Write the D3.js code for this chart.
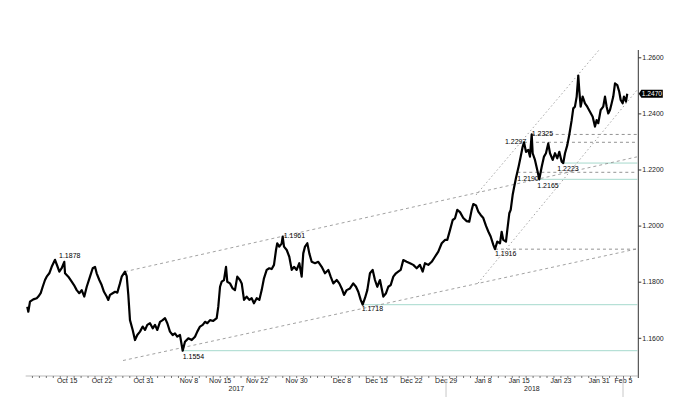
<!DOCTYPE html>
<html>
<head>
<meta charset="utf-8">
<script src="https://cdn.jsdelivr.net/npm/d3@7"></script>
<style>
  html, body { margin: 0; padding: 0; background: #fff; }
  svg { display: block; }
  text { font-family: "Liberation Sans", Arial, sans-serif; }
</style>
</head>
<body>
<svg id="chart" width="677" height="397"></svg>
<script>
// ---------------- DATA ----------------
// trading-day index (0 = Mon 16 Oct 2017, weekends removed)
const tradingDay = [
  -5.67,-5.52,-5.28,-4.80,-4.31,-4.08,-3.74,-3.45,-3.12,-2.88,-2.50,-2.16,-1.68,-1.35,-1.06,-0.72,-0.35,-0.24,
  0.23,0.72,1.05,1.44,1.81,2.16,2.53,2.88,3.35,3.74,4.07,4.31,4.69,5.03,5.36,5.75,5.98,6.23,6.61,6.95,7.28,
  7.66,7.91,8.38,8.63,8.86,9.10,9.49,9.82,10.15,10.54,10.93,11.26,11.59,11.98,12.37,12.70,13.03,13.42,13.80,
  14.14,14.47,14.85,15.24,15.57,15.90,16.29,16.68,17.01,17.49,17.98,18.45,18.78,19.17,19.56,19.89,20.22,20.61,
  21.08,21.57,21.80,22.05,22.29,22.62,22.91,23.09,23.48,23.87,24.20,24.53,24.92,25.17,25.50,25.88,26.26,26.60,
  26.93,27.32,27.70,28.04,28.37,28.76,29.13,29.48,29.81,30.10,30.28,30.57,30.92,31.06,31.25,31.64,32.01,32.36,
  32.69,33.07,33.45,33.79,34.02,34.27,34.60,34.89,35.23,35.71,36.18,36.67,37.14,37.62,37.96,38.34,38.83,39.20,
  39.55,39.88,40.26,40.74,41.21,41.60,41.93,42.28,42.56,42.90,43.23,43.61,44.00,44.33,44.66,45.05,45.53,45.92,
  46.25,46.59,46.97,47.35,47.68,48.03,48.40,48.89,49.37,49.84,50.33,50.80,51.19,51.52,52.00,52.49,52.96,53.44,
  53.93,54.40,54.73,55.12,55.51,55.84,56.17,56.56,57.03,57.52,57.89,58.24,58.47,58.86,59.19,59.53,59.91,60.30,
  60.63,60.97,61.35,61.59,61.92,62.31,62.55,62.78,63.17,63.36,63.65,63.85,64.13,64.32,64.61,64.80,65.00,65.29,
  65.57,65.76,66.05,66.38,66.62,66.87,67.01,67.34,67.67,67.96,68.31,68.64,68.92,69.25,69.50,69.89,70.22,70.55,
  70.84,71.18,71.41,71.66,71.99,72.27,72.62,72.85,73.09,73.34,73.57,73.71,73.91,74.20,74.53,74.86,75.25,75.64,
  75.97,76.21,76.44,76.79,77.16,77.41,77.65,77.88,78.13,78.37,78.60,78.85,79.18,79.46,79.67,79.95,80.14,80.43,80.61
];
const price = [
  1.1711,1.1693,1.1729,1.1737,1.1741,1.1747,1.1759,1.1782,1.1806,1.1818,1.1830,1.1853,1.1878,1.1856,1.1836,1.1848,1.1871,1.1830,
  1.1818,1.1800,1.1788,1.1770,1.1759,1.1770,1.1747,1.1782,1.1818,1.1848,1.1853,1.1830,1.1806,1.1788,1.1764,1.1747,1.1735,1.1753,1.1759,1.1764,1.1761,
  1.1794,1.1818,1.1836,1.1820,1.1753,1.1663,1.1628,1.1592,1.1610,1.1622,1.1640,1.1628,1.1646,1.1652,1.1634,1.1646,1.1628,1.1657,1.1663,
  1.1670,1.1652,1.1622,1.1610,1.1616,1.1604,1.1610,1.1554,1.1586,1.1598,1.1592,1.1604,1.1622,1.1640,1.1646,1.1657,1.1652,1.1663,
  1.1660,1.1670,1.1711,1.1782,1.1800,1.1806,1.1853,1.1800,1.1794,1.1776,1.1770,1.1818,1.1806,1.1794,1.1735,1.1747,1.1735,1.1741,
  1.1723,1.1741,1.1735,1.1770,1.1812,1.1842,1.1848,1.1845,1.1860,1.1913,1.1937,1.1925,1.1937,1.1961,1.1925,1.1913,1.1889,1.1842,
  1.1853,1.1842,1.1866,1.1818,1.1901,1.1925,1.1937,1.1901,1.1871,1.1866,1.1871,1.1853,1.1830,1.1842,1.1818,1.1794,1.1806,1.1794,
  1.1776,1.1753,1.1770,1.1776,1.1794,1.1782,1.1764,1.1735,1.1718,1.1742,1.1770,1.1830,1.1842,1.1806,1.1782,1.1806,1.1747,1.1759,
  1.1782,1.1788,1.1818,1.1830,1.1836,1.1842,1.1877,1.1871,1.1866,1.1860,1.1848,1.1860,1.1836,1.1866,1.1860,1.1871,1.1889,1.1907,
  1.1937,1.1949,1.1949,1.1984,1.2020,1.2026,1.2056,1.2048,1.2027,1.2016,1.2014,1.2056,1.2077,1.2072,1.2050,1.2038,1.2027,1.1999,
  1.1979,1.1961,1.1931,1.1916,1.1943,1.1937,1.1978,1.1949,1.1943,1.1984,1.2044,1.2056,1.2109,1.2134,1.2170,1.2190,1.2212,1.2246,
  1.2281,1.2297,1.2263,1.2270,1.2246,1.2325,1.2258,1.2234,1.2198,1.2165,1.2210,1.2246,1.2258,1.2293,1.2258,1.2234,1.2258,1.2240,
  1.2263,1.2228,1.2223,1.2258,1.2287,1.2323,1.2376,1.2418,1.2424,1.2460,1.2535,1.2483,1.2424,1.2460,1.2436,1.2424,1.2406,1.2388,
  1.2353,1.2376,1.2365,1.2412,1.2424,1.2460,1.2424,1.2400,1.2412,1.2436,1.2460,1.2507,1.2501,1.2477,1.2448,1.2436,1.2460,1.2442,1.2470
];
const lastPrice = 1.2470;

const yTickValues = [1.16, 1.18, 1.20, 1.22, 1.24, 1.26];
const xTickDays   = [0, 5, 11, 17.5, 22, 27.3, 33, 39.5, 44.5, 49.5, 54.5, 59.8, 65, 71, 76.5, 80];
const xTickLabels = ["Oct 15","Oct 22","Oct 31","Nov 8","Nov 15","Nov 22","Nov 30","Dec 8","Dec 15","Dec 22","Dec 29","Jan 8","Jan 15","Jan 23","Jan 31","Feb 5"];
const yearLabels = ["2017", "2018"];
const yearLabelDays = [24.4, 66.9];
const separatorDays = [54.55, 80];

// horizontal support / resistance levels
const solidLevels = [1.1554, 1.1718, 1.2165, 1.2223];
const solidLevelStart = [16.68, 42.56, 67.96, 71.41];
const dashedLevels = [1.1916, 1.2190, 1.2297, 1.2325];
const dashedLevelStart = [61.59, 64.80, 65.76, 66.87];

// trend channel lines: [day0, price0, day1, price1]
const longChannel = [
  [8.10, 1.1519, 82.01, 1.1917],
  [8.38, 1.1836, 82.01, 1.2245]
];
const steepChannel = [
  [58.86, 1.2109, 76.55, 1.2626],
  [59.15, 1.1795, 82.01, 1.2483]
];

// swing labels
const swingText  = ["1.1878","1.1961","1.1554","1.1718","1.1916","1.2190","1.2165","1.2223","1.2297","1.2325"];
const swingDay   = [-1.68, 31.06, 16.68, 42.56, 61.59, 64.80, 67.96, 71.41, 65.76, 66.87];
const swingPrice = [1.1878, 1.1961, 1.1554, 1.1718, 1.1916, 1.2190, 1.2165, 1.2223, 1.2297, 1.2325];

// ---------------- LAYOUT ----------------
const svg = d3.select("#chart");
const x = d3.scaleLinear().domain([0, 80]).range([66.7, 623.0]);
const y = d3.scaleLinear().domain([1.16, 1.26]).range([337.8, 57.3]);
const axisX = 638.3, axisBottomY = 376, plotLeftDay = -5.9, plotRightDay = 82.2;
// label offsets (px) for swing labels
const swingOffset = [[4,-2],[1,1.5],[0,8],[-1,6.5],[0,7],[0,9],[-2,9],[-6,8],[-19,2],[0,2]];
const fontStack = '"Liberation Sans", Arial, sans-serif';

// horizontal solid levels (teal)
svg.append("g").selectAll("line").data(solidLevels).join("line")
  .attr("x1", (d,i) => x(solidLevelStart[i])).attr("x2", x(plotRightDay) - 1)
  .attr("y1", d => y(d)).attr("y2", d => y(d))
  .attr("stroke", "#a6d9cd").attr("stroke-width", 1);

// horizontal dashed levels
svg.append("g").selectAll("line").data(dashedLevels).join("line")
  .attr("x1", (d,i) => x(dashedLevelStart[i])).attr("x2", x(plotRightDay) - 1)
  .attr("y1", d => y(d)).attr("y2", d => y(d))
  .attr("stroke", "#777").attr("stroke-width", 0.8).attr("stroke-dasharray", "3,3");

// long channel
svg.append("g").selectAll("line").data(longChannel).join("line")
  .attr("x1", d => x(d[0])).attr("y1", d => y(d[1]))
  .attr("x2", d => x(d[2])).attr("y2", d => y(d[3]))
  .attr("stroke", "#8a8a8a").attr("stroke-width", 0.8).attr("stroke-dasharray", "3,3");

// steep channel (dotted)
svg.append("g").selectAll("line").data(steepChannel).join("line")
  .attr("x1", d => x(d[0])).attr("y1", d => y(d[1]))
  .attr("x2", d => x(d[2])).attr("y2", d => y(d[3]))
  .attr("stroke", "#9a9a9a").attr("stroke-width", 0.9).attr("stroke-dasharray", "1.5,2.5");

// price line
const series = tradingDay.map((d,i) => [d, price[i]]);
svg.append("path").datum(series)
  .attr("fill", "none").attr("stroke", "#000").attr("stroke-width", 2.2)
  .attr("stroke-linejoin", "round")
  .attr("d", d3.line().x(d => x(d[0])).y(d => y(d[1])));

// swing labels
svg.append("g").selectAll("text").data(swingText).join("text")
  .attr("x", (d,i) => x(swingDay[i]) + swingOffset[i][0])
  .attr("y", (d,i) => y(swingPrice[i]) + swingOffset[i][1])
  .attr("font-size", 7).attr("fill", "#000")
  .text(d => d);

// right axis
svg.append("line").attr("x1", axisX).attr("x2", axisX).attr("y1", 50).attr("y2", 378)
  .attr("stroke", "#333").attr("stroke-width", 1);
const yAxis = svg.append("g").attr("transform", `translate(${axisX},0)`)
  .call(d3.axisRight(y).tickValues(yTickValues).tickSize(3).tickPadding(1).tickFormat(d3.format(".4f")));
yAxis.select(".domain").remove();
yAxis.selectAll("text").attr("font-size", 7).attr("fill", "#222").style("font-family", fontStack);
yAxis.selectAll("line").attr("stroke", "#333");

// last price tag
const ty = y(lastPrice);
svg.append("path")
  .attr("d", `M${axisX+0.5},${ty} L${axisX+3},${ty-4} L${axisX+24.5},${ty-4} L${axisX+24.5},${ty+4} L${axisX+3},${ty+4} Z`)
  .attr("fill", "#000");
svg.append("text").attr("x", axisX + 3.5).attr("y", ty + 2.4)
  .attr("font-size", 6.6).attr("fill", "#fff").style("font-family", fontStack)
  .text(d3.format(".4f")(lastPrice));

// bottom axis
svg.append("line").attr("x1", x(plotLeftDay)).attr("x2", axisX)
  .attr("y1", axisBottomY).attr("y2", axisBottomY)
  .attr("stroke", "#aaa").attr("stroke-width", 0.8);
const minor = svg.append("g").attr("transform", `translate(0,${axisBottomY})`)
  .call(d3.axisBottom(x).tickValues(d3.range(-5, 82)).tickSize(2).tickFormat(""));
minor.select(".domain").remove();
minor.selectAll("line").attr("stroke", "#555").attr("stroke-width", 0.8);

const xAxis = svg.append("g").attr("transform", `translate(0,${axisBottomY})`)
  .call(d3.axisBottom(x).tickValues(xTickDays).tickSize(0).tickPadding(2)
    .tickFormat((d,i) => xTickLabels[i]));
xAxis.select(".domain").remove();
xAxis.selectAll("text").attr("font-size", 7).attr("fill", "#222").style("font-family", fontStack);

// separators and year labels
svg.append("g").selectAll("line").data(separatorDays).join("line")
  .attr("x1", d => x(d)).attr("x2", d => x(d))
  .attr("y1", axisBottomY + 3).attr("y2", 397)
  .attr("stroke", "#c8c8c8").attr("stroke-width", 1);
svg.append("g").selectAll("text").data(yearLabels).join("text")
  .attr("x", (d,i) => x(yearLabelDays[i])).attr("y", 391)
  .attr("text-anchor", "middle").attr("font-size", 7).attr("fill", "#222")
  .text(d => d);
</script>
</body>
</html>
